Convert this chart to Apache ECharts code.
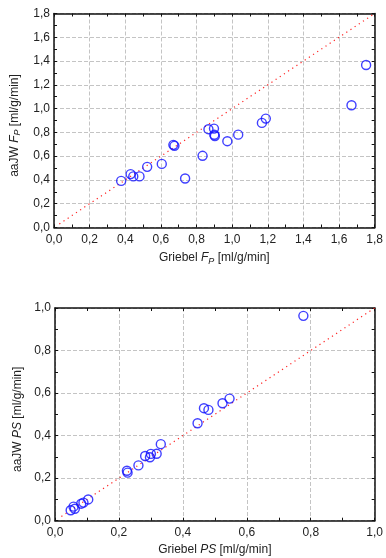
<!DOCTYPE html>
<html><head><meta charset="utf-8">
<script src="https://cdn.jsdelivr.net/npm/echarts@6/dist/echarts.min.js"></script>
<style>html,body{margin:0;padding:0;background:#fff}#c{width:386px;height:558px}</style>
</head><body><div id="c"></div>
<script>
// Top panel: F_P
const fpGriebel = [0.377,0.430,0.445,0.480,0.523,0.605,0.670,0.676,0.736,0.834,0.867,0.898,0.900,0.903,0.973,1.034,1.167,1.189,1.670,1.752];
const fpAaJW    = [0.392,0.449,0.430,0.430,0.510,0.535,0.695,0.687,0.412,0.603,0.827,0.832,0.780,0.770,0.726,0.781,0.880,0.916,1.028,1.367];
const fpIdentity = [0.03, 1.8];
const fpAxis = {min: 0, max: 1.8, interval: 0.2};
// Bottom panel: PS
const psGriebel = [0.049,0.058,0.062,0.082,0.089,0.104,0.225,0.227,0.261,0.282,0.297,0.300,0.318,0.331,0.446,0.466,0.480,0.524,0.546,0.777];
const psAaJW    = [0.049,0.066,0.056,0.080,0.085,0.100,0.235,0.226,0.260,0.304,0.298,0.314,0.315,0.360,0.458,0.529,0.521,0.552,0.574,0.963];
const psIdentity = [0.02, 1.0];
const psAxis = {min: 0, max: 1.0, interval: 0.2};

const FONT = 'Liberation Sans, Arial, sans-serif';
const fmt = v => v.toFixed(1).replace('.', ',');
const rich = {
  n: {fontFamily: FONT, fontSize: 12, color: '#222', lineHeight: 16},
  i: {fontFamily: FONT, fontSize: 12, color: '#222', fontStyle: 'italic', lineHeight: 16},
  s: {fontFamily: FONT, fontSize: 9, color: '#222', fontStyle: 'italic', verticalAlign: 'bottom', lineHeight: 16, padding: [5, 0, 0, 0]}
};
const lineStyle = {color: '#111', width: 1.5};

function axisPair(kind, gridIndex, cfg, name, nameGap, primary, namePad) {
  const base = {
    type: 'value', gridIndex, min: cfg.min, max: cfg.max, interval: cfg.interval,
    axisLine: {show: true, onZero: false, lineStyle},
    axisTick: {show: true, inside: true, length: 3, lineStyle: {color: '#111', width: 1}},
    minorTick: {show: true, splitNumber: 2, length: 3, lineStyle: {color: '#111', width: 1}},
    splitLine: {show: primary, lineStyle: {color: '#c4c4c4', type: [4, 2], width: 1}},
    axisLabel: {show: primary, formatter: fmt, fontFamily: FONT, fontSize: 12, color: '#222', margin: kind === 'x' ? 6 : 4}
  };
  if (primary) {
    base.name = name;
    base.nameLocation = 'middle';
    base.nameGap = nameGap;
    base.nameTextStyle = {rich, padding: namePad || 0};
    if (kind === 'y') base.nameRotate = 90;
  }
  return base;
}

const chart = echarts.init(document.getElementById('c'), null, {renderer: 'canvas'});
const markerStyle = {color: 'rgba(0,0,0,0)', borderColor: '#1010ff', borderWidth: 1.4};
const identityStyle = {color: '#ff2020', width: 1.2, type: [1.2, 3.8]};

chart.setOption({
  animation: false,
  grid: [
    {left: 54, width: 330, top: 13.5, height: 214},
    {left: 55, width: 326.5, top: 308, height: 212.7}
  ],
  xAxis: [
    Object.assign(axisPair('x', 0, fpAxis, '{n|Griebel }{i|F}{s|P}{n| [ml/g/min]}', 22, true), {position: 'bottom'}),
    Object.assign(axisPair('x', 0, fpAxis, '', 0, false), {position: 'top'}),
    Object.assign(axisPair('x', 1, psAxis, '{n|Griebel }{i|PS}{n| [ml/g/min]}', 21, true), {position: 'bottom'}),
    Object.assign(axisPair('x', 1, psAxis, '', 0, false), {position: 'top'})
  ],
  yAxis: [
    Object.assign(axisPair('y', 0, fpAxis, '{n|aaJW }{i|F}{s|P}{n| [ml/g/min]}', 28, true, [0, 10, 0, 0]), {position: 'left'}),
    Object.assign(axisPair('y', 0, fpAxis, '', 0, false), {position: 'right'}),
    Object.assign(axisPair('y', 1, psAxis, '{n|aaJW }{i|PS}{n| [ml/g/min]}', 25, true, [0, 10, 0, 0]), {position: 'left'}),
    Object.assign(axisPair('y', 1, psAxis, '', 0, false), {position: 'right'})
  ],
  series: [
    {type: 'line', xAxisIndex: 0, yAxisIndex: 0, data: fpIdentity.map(v => [v, v]), symbol: 'none', lineStyle: identityStyle, z: 1, silent: true},
    {type: 'scatter', xAxisIndex: 0, yAxisIndex: 0, data: fpGriebel.map((v, k) => [v, fpAaJW[k]]), symbol: 'circle', symbolSize: 9, itemStyle: markerStyle, z: 3},
    {type: 'line', xAxisIndex: 2, yAxisIndex: 2, data: psIdentity.map(v => [v, v]), symbol: 'none', lineStyle: identityStyle, z: 1, silent: true},
    {type: 'scatter', xAxisIndex: 2, yAxisIndex: 2, data: psGriebel.map((v, k) => [v, psAaJW[k]]), symbol: 'circle', symbolSize: 9, itemStyle: markerStyle, z: 3}
  ]
});
</script></body></html>
